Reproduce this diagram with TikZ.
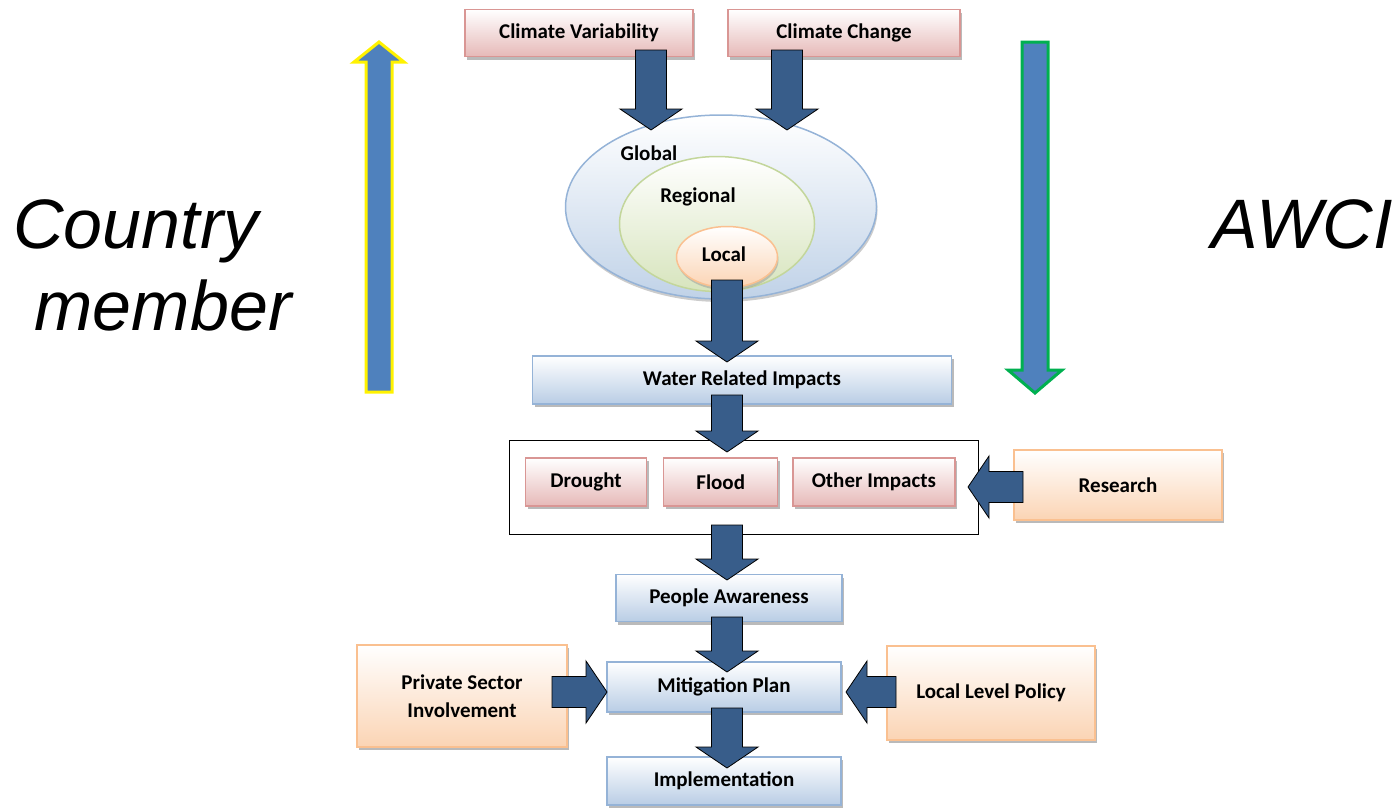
\documentclass[tikz,border=0pt]{standalone}
\usepackage{fontspec}
\setmainfont{Carlito}
\newfontfamily\arialfont{Liberation Sans}
\usetikzlibrary{positioning,calc,shapes.geometric,shadows}

\definecolor{arrowblue}{HTML}{385D8A}
\definecolor{sideblue}{HTML}{4F81BD}
\definecolor{redline}{HTML}{D99694}
\definecolor{redfill}{HTML}{E6B9B8}
\definecolor{blueline}{HTML}{95B3D7}
\definecolor{bluefill}{HTML}{B9CDE5}
\definecolor{orangeline}{HTML}{FAC090}
\definecolor{orangefill}{HTML}{FBD4B4}
\definecolor{greenline}{HTML}{C3D69B}
\definecolor{greenfill}{HTML}{D7E4BD}
\definecolor{awcigreen}{HTML}{00B050}

\newcommand{\shafthalf}{15.5pt}
\newcommand{\headhalf}{31pt}
\newcommand{\headlen}{21pt}
\newcommand{\fatarrow}[3][]{%
  \coordinate (fa-h) at ($#3!\headlen!#2$);
  \draw[fatstyle,#1] ($#2!\shafthalf!90:#3$) -- ($(fa-h)!\shafthalf!-90:#2$)
    -- ($(fa-h)!\headhalf!-90:#2$) -- #3 -- ($(fa-h)!\headhalf!90:#2$)
    -- ($(fa-h)!\shafthalf!90:#2$) -- ($#2!\shafthalf!-90:#3$) -- cycle;}

\tikzset{
  box/.style={rectangle, line width=1.2pt, font=\fontsize{21}{24}\selectfont\bfseries,
    align=center, inner sep=2pt,
    drop shadow={shadow xshift=2pt, shadow yshift=-3pt, fill=black!45, opacity=.6}},
  redbox/.style={box, draw=redline, top color=white, bottom color=redfill},
  bluebox/.style={box, draw=blueline, top color=white, bottom color=bluefill},
  orangebox/.style={box, draw=orangeline, top color=white, bottom color=orangefill},
  fatstyle/.style={fill=arrowblue, draw=black, line width=0.8pt, line join=miter},
  bigtext/.style={font=\arialfont\itshape\fontsize{70}{80}\selectfont, inner sep=0pt},
  label/.style={font=\fontsize{21}{24}\selectfont\bfseries, inner sep=0pt}
}

\begin{document}
\begin{tikzpicture}[x=1pt, y=-1pt]
   \useasboundingbox (0,0) rectangle (1399,809);

   % scale rings
   \node[ellipse, draw=blueline, line width=1.5pt, top color=white, bottom color=bluefill!90,
     minimum width=311, minimum height=184,
     drop shadow={shadow xshift=1pt, shadow yshift=-3pt, fill=black!40, opacity=.5}] (global) at (721,207) {};
   \node[ellipse, draw=greenline, line width=1.5pt, top color=white, bottom color=greenfill,
     minimum width=195, minimum height=135] (regional) at (717,224) {};
   \node[ellipse, draw=orangeline, line width=1.5pt, top color=white, bottom color=orangefill,
     minimum width=101, minimum height=61,
     drop shadow={shadow xshift=1pt, shadow yshift=-3pt, fill=black!40, opacity=.5}] (local) at (727,257) {};
   \node[label] (globaltxt) at (649,153) {Global};
   \node[label] (regionaltxt) at (698,197) {Regional};
   \node[label] (localtxt) at (724,254) {Local};

   % boxes
   \node[redbox, minimum width=228, minimum height=47] (cv) at (579,33) {Climate Variability};
   \node[redbox, minimum width=232, minimum height=47] (cc) at (844,33) {Climate Change};
   \node[bluebox, minimum width=419, minimum height=48] (wri) at (742,380) {Water Related Impacts};

   \node[draw=black, line width=0.9pt, minimum width=469, minimum height=94] (frame) at (743.5,487) {};
   \node[redbox, minimum width=121, minimum height=48] (drought) at (586,482) {Drought};
   \node[redbox, minimum width=114, minimum height=48, right=16 of drought] (flood) {Flood};
   \node[redbox, minimum width=162, minimum height=48, right=14 of flood] (other) {Other Impacts};
   \node[orangebox, minimum width=208, minimum height=70] (research) at (1118,485) {Research};

   \node[bluebox, minimum width=226, minimum height=47] (people) at (729,598) {People Awareness};
   \node[bluebox, minimum width=234, minimum height=50] (mitig) at (724,687) {Mitigation Plan};
   \node[bluebox, minimum width=234, minimum height=48] (impl) at (724,781) {Implementation};
   \node[orangebox, minimum width=210, minimum height=102] (private) at (462,696) {Private Sector\\[4pt]Involvement};
   \node[orangebox, minimum width=208, minimum height=94] (policy) at (991,693) {Local Level Policy};

   % arrow ends
   \coordinate (cv-a) at (651,50);    \coordinate (cv-b) at (651,130);
   \coordinate (cc-a) at (787,50);    \coordinate (cc-b) at (787,130);
   \coordinate (loc-a) at (727,280);  \coordinate (loc-b) at (727,362);
   \coordinate (wri-a) at (727,395);  \coordinate (wri-b) at (727,452);
   \coordinate (fr-a) at (727,525);   \coordinate (fr-b) at (727,580);
   \coordinate (pa-a) at (727,617);   \coordinate (pa-b) at (727,672);
   \coordinate (mp-a) at (727,708);   \coordinate (mp-b) at (727,768);
   \coordinate (res-a) at (1023,487); \coordinate (res-b) at (968,487);
   \coordinate (ps-a) at (552,692);   \coordinate (ps-b) at (607,692);
   \coordinate (llp-a) at (896,692);  \coordinate (llp-b) at (846,692);

   \fatarrow{(cv-a)}{(cv-b)}
   \fatarrow{(cc-a)}{(cc-b)}
   \fatarrow{(loc-a)}{(loc-b)}
   \fatarrow{(wri-a)}{(wri-b)}
   \fatarrow{(fr-a)}{(fr-b)}
   \fatarrow{(pa-a)}{(pa-b)}
   \fatarrow{(mp-a)}{(mp-b)}
   \fatarrow{(res-a)}{(res-b)}
   \fatarrow{(ps-a)}{(ps-b)}
   \fatarrow{(llp-a)}{(llp-b)}

   % side arrows
   \coordinate (up-a) at (379,392);   \coordinate (up-b) at (379,42);
   \coordinate (down-a) at (1035,42); \coordinate (down-b) at (1035,393);
   {\renewcommand{\shafthalf}{13pt}\renewcommand{\headhalf}{25pt}\renewcommand{\headlen}{20pt}
    \fatarrow[fill=sideblue, draw=yellow, line width=3pt]{(up-a)}{(up-b)}}
   {\renewcommand{\shafthalf}{13pt}\renewcommand{\headhalf}{27pt}\renewcommand{\headlen}{23pt}
    \fatarrow[fill=sideblue, draw=awcigreen, line width=3pt]{(down-a)}{(down-b)}}

   \node[bigtext, anchor=base] (country) at (136,248) {Country};
   \node[bigtext, anchor=base] (member) at (163,330) {member};
   \node[bigtext, anchor=base] (awci) at (1302,248) {AWCI};
\end{tikzpicture}
\end{document}
